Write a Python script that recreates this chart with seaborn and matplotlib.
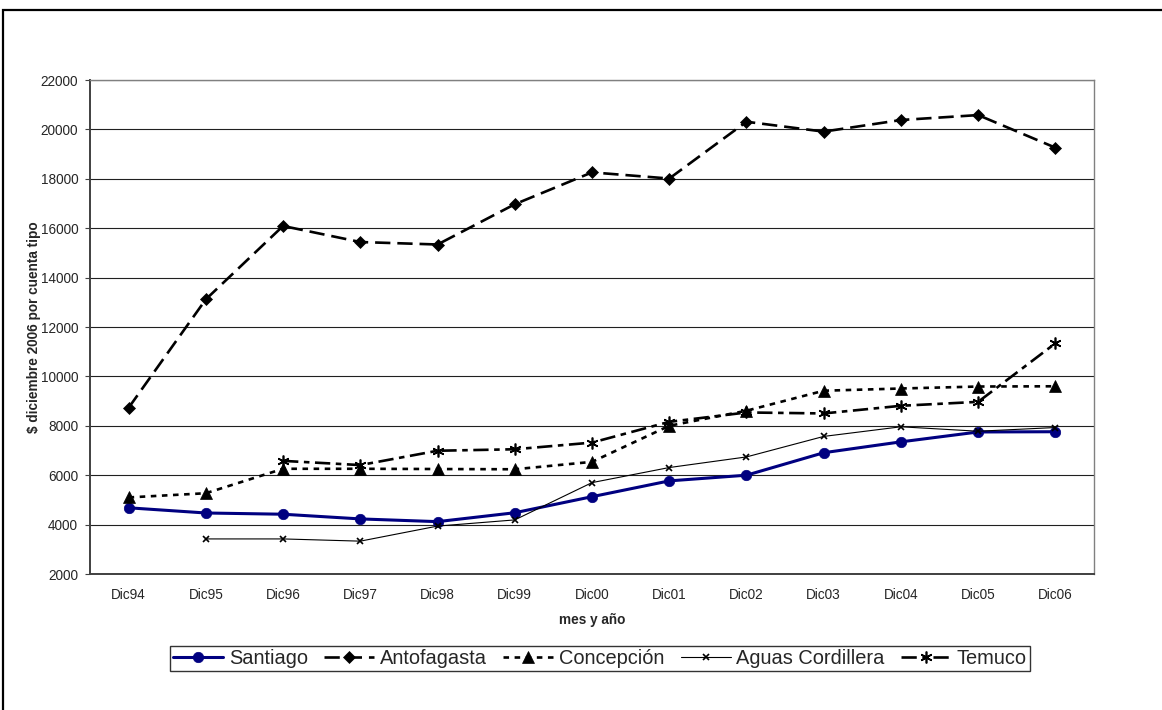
import matplotlib
matplotlib.use("Agg")
import matplotlib.pyplot as plt
from matplotlib.patches import Rectangle
import numpy as np
import pandas as pd
import seaborn as sns

# Tariff per standard account, in December-2006 pesos
periodos = ["Dic94", "Dic95", "Dic96", "Dic97", "Dic98", "Dic99", "Dic00",
            "Dic01", "Dic02", "Dic03", "Dic04", "Dic05", "Dic06"]
santiago = [4680, 4470, 4420, 4230, 4120, 4480, 5130, 5770, 6000, 6910, 7350, 7750, 7760]
antofagasta = [8730, 13120, 16090, 15440, 15340, 16970, 18260, 18010, 20310, 19910, 20380, 20580, 19260]
concepcion = [5100, 5270, 6260, 6260, 6250, 6240, 6540, 8000, 8610, 9420, 9510, 9590, 9600]
aguas_cordillera = [np.nan, 3420, 3420, 3330, 3940, 4190, 5700, 6310, 6740, 7570, 7960, 7780, 7930]
temuco = [np.nan, np.nan, 6580, 6410, 6990, 7050, 7320, 8160, 8540, 8500, 8810, 8970, 11340]

series = {
    "Santiago": santiago,
    "Antofagasta": antofagasta,
    "Concepción": concepcion,
    "Aguas Cordillera": aguas_cordillera,
    "Temuco": temuco,
}

df = pd.DataFrame(
    [(p, name, v) for name, vals in series.items() for p, v in zip(periodos, vals)],
    columns=["periodo", "empresa", "valor"],
).dropna()

sns.set_style("white")
plt.rcParams["font.family"] = ["Liberation Sans", "DejaVu Sans"]
plt.rcParams["lines.scale_dashes"] = False

fig = plt.figure(figsize=(11.62, 7.10), dpi=100)
ax = fig.add_axes([90 / 1162, 1 - 574 / 710, 1004 / 1162, 494 / 710])

estilos = {
    "Santiago": dict(color="#000080", lw=2.2, marker="o", ms=7.5, dashes=None),
    "Antofagasta": dict(color="black", lw=1.9, marker="D", ms=6.5, dashes=(11, 5)),
    "Concepción": dict(color="black", lw=1.9, marker="^", ms=8, dashes=(4, 4)),
    "Aguas Cordillera": dict(color="black", lw=0.8, marker="x", ms=5, dashes=None),
    "Temuco": dict(color="black", lw=1.9, marker=(6, 2, 0), ms=8.5, dashes=(11, 4, 4, 4)),
}

handles = []
for name in series:
    st = estilos[name]
    sub = df[df["empresa"] == name]
    sns.lineplot(data=sub, x="periodo", y="valor", ax=ax, color=st["color"],
                 linewidth=st["lw"], marker=st["marker"], markersize=st["ms"],
                 markeredgecolor=st["color"], markerfacecolor=st["color"],
                 markeredgewidth=1.2 if name in ("Aguas Cordillera", "Temuco") else 0.5,
                 sort=False, label=name, legend=False)
    line = ax.lines[-1]
    if st["dashes"] is not None:
        line.set_dashes(st["dashes"])
    handles.append(line)

ax.set_xlim(-0.5, len(periodos) - 0.5)
ax.set_ylim(2000, 22000)
ax.set_yticks(np.arange(2000, 22001, 2000))
ax.yaxis.grid(True, color="#202020", linewidth=0.8)
ax.xaxis.grid(False)
ax.set_axisbelow(True)

ax.set_xticks(range(len(periodos)))
ax.set_xticklabels(periodos)
ax.set_xticks(np.arange(-0.5, len(periodos), 1.0), minor=True)
ax.tick_params(axis="x", which="major", length=0, labelsize=9.8, pad=10)
ax.tick_params(axis="x", which="minor", length=3.5, width=0.8, color="#404040", direction="out")
ax.tick_params(axis="y", which="major", length=3.5, width=0.8, color="#404040",
               direction="out", labelsize=9.8, pad=5, left=True)

for side in ("left", "bottom"):
    ax.spines[side].set_color("#404040")
    ax.spines[side].set_linewidth(1.4)
ax.spines["right"].set_color("#808080")
ax.spines["right"].set_linewidth(1.0)
ax.spines["top"].set_color("#808080")
ax.spines["top"].set_linewidth(1.0)

ax.set_xlabel("mes y año", fontsize=9.8, fontweight="bold", labelpad=8)
ax.set_ylabel("$ diciembre 2006 por cuenta tipo", fontsize=9.8, fontweight="bold", labelpad=0)

leg = fig.legend(handles=handles, labels=list(series.keys()), loc="center",
                 bbox_to_anchor=(600 / 1162, 1 - 658 / 710), ncol=5, frameon=True,
                 fontsize=14.4, handlelength=2.5, handletextpad=0.3, columnspacing=0.8,
                 borderpad=0.15, borderaxespad=0, numpoints=1, fancybox=False)
leg.get_frame().set_edgecolor("black")
leg.get_frame().set_linewidth(1.0)

# chart-area border
fig.patches.append(Rectangle((3 / 1162, -0.1), 1.2, 1 - 10 / 710 + 0.1,
                             transform=fig.transFigure, fill=False,
                             edgecolor="black", linewidth=1.6))

fig.savefig("out.png", dpi=100)
